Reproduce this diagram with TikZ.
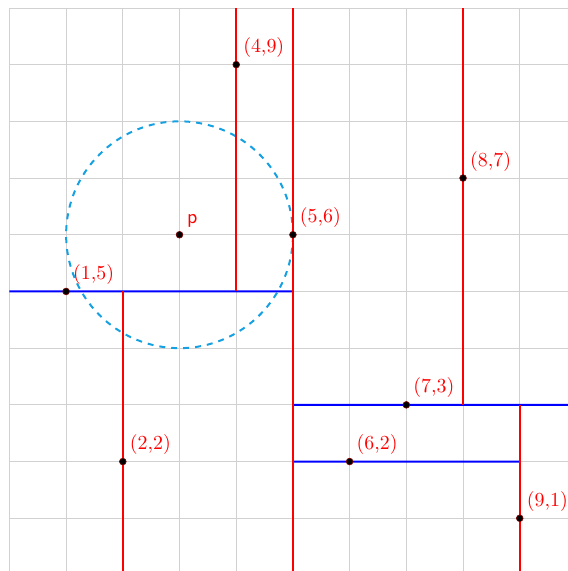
\documentclass[tikz,border=0pt]{standalone}
\definecolor{circblue}{RGB}{20,160,225}
\begin{document}
\begin{tikzpicture}[
  gridline/.style={draw=black!18, line width=0.4pt},
  vsplit/.style={draw=red, line width=1.1pt},
  hsplit/.style={draw=blue, line width=1pt},
  circ/.style={draw=circblue, dashed, line width=1pt},
  dot/.style={circle, fill=black, draw=red!50!black, line width=0.3pt, inner sep=0pt, minimum size=3.4pt},
  ptlabel/.style={text=red, anchor=south west, inner sep=3.333pt}
]
\useasboundingbox (-0.166,0.07) rectangle (9.85,10.14);
\clip (-0.166,0.07) rectangle (9.85,10.14);
\draw[gridline] (0,0) grid (10,10);

% points
\coordinate (P)  at (3,6);
\coordinate (A15) at (1,5);
\coordinate (A22) at (2,2);
\coordinate (A49) at (4,9);
\coordinate (A56) at (5,6);
\coordinate (A62) at (6,2);
\coordinate (A73) at (7,3);
\coordinate (A87) at (8,7);
\coordinate (A91) at (9,1);

% circle
\draw[circ] (P) circle (2);

% line end coordinates
\coordinate (ya1) at (0,5);  \coordinate (ya2) at (5,5.0005);
\coordinate (xb1) at (2,5);  \coordinate (xb2) at (2,0);
\coordinate (xc1) at (4,5);  \coordinate (xc2) at (4,10);
\coordinate (xd1) at (5,0);  \coordinate (xd2) at (5,10);
\coordinate (ye1) at (5,3);  \coordinate (ye2) at (10,3.0005);
\coordinate (xf1) at (8,3);  \coordinate (xf2) at (8,10);
\coordinate (xg1) at (9,3);  \coordinate (xg2) at (9,0);
\coordinate (yh1) at (5,2);  \coordinate (yh2) at (9,2.0005);

\draw[hsplit] (ya1) -- (ya2);
\draw[hsplit] (ye1) -- (ye2);
\draw[hsplit] (yh1) -- (yh2);
\draw[vsplit] (xb1) -- (xb2);
\draw[vsplit] (xc1) -- (xc2);
\draw[vsplit] (xd1) -- (xd2);
\draw[vsplit] (xf1) -- (xf2);
\draw[vsplit] (xg1) -- (xg2);

% dots
\node[dot] (dP)  at (P) {};
\node[dot] (d15) at (A15) {};
\node[dot] (d22) at (A22) {};
\node[dot] (d49) at (A49) {};
\node[dot] (d56) at (A56) {};
\node[dot] (d62) at (A62) {};
\node[dot] (d73) at (A73) {};
\node[dot] (d87) at (A87) {};
\node[dot] (d91) at (A91) {};

% labels
\node[ptlabel, inner sep=3.6pt] (tP) at (P) {\sffamily p};
\node[ptlabel] (t15) at (A15) {(1,5)};
\node[ptlabel] (t22) at (A22) {(2,2)};
\node[ptlabel] (t49) at (A49) {(4,9)};
\node[ptlabel] (t56) at (A56) {(5,6)};
\node[ptlabel] (t62) at (A62) {(6,2)};
\node[ptlabel] (t73) at (A73) {(7,3)};
\node[ptlabel] (t87) at (A87) {(8,7)};
\node[ptlabel] (t91) at (A91) {(9,1)};
\end{tikzpicture}
\end{document}
